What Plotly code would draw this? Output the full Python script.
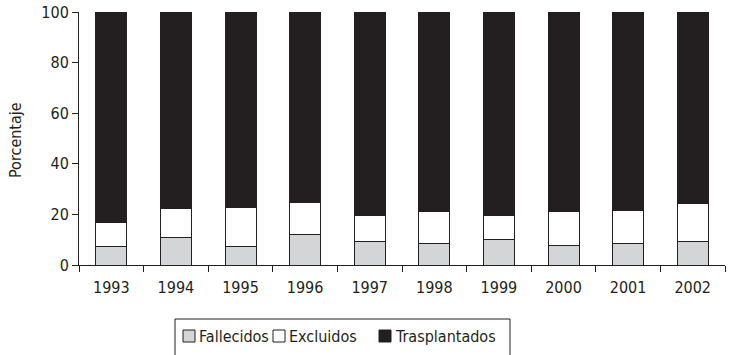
import plotly.graph_objects as go

years = ["1993", "1994", "1995", "1996", "1997", "1998", "1999", "2000", "2001", "2002"]
fallecidos = [7.2, 10.8, 7.2, 12.1, 9.4, 8.6, 9.9, 7.9, 8.6, 9.2]
excluidos_top = [16.7, 22.4, 22.8, 24.9, 19.5, 21.3, 19.5, 21.1, 21.7, 24.4]
excluidos = [round(t - f, 1) for t, f in zip(excluidos_top, fallecidos)]
trasplantados = [round(100 - t, 1) for t in excluidos_top]

series_names = ["Fallecidos", "Excluidos", "Trasplantados"]
series_colors = ["#d4d5d6", "#ffffff", "#231f20"]
INK = "#231f20"
FONT = "Liberation Sans Narrow, Arial Narrow, DejaVu Sans Condensed, Liberation Sans, Arial, sans-serif"

W, H = 730, 355
L, R, T, B = 79, 5, 12, 90
PW, PH = W - L - R, H - T - B

def px(x):
    return (x - L) / PW

def py(y):
    return (H - B - y) / PH

fig = go.Figure()
for name, vals, col in zip(series_names, [fallecidos, excluidos, trasplantados], series_colors):
    fig.add_trace(go.Bar(x=years, y=vals, name=name,
                         marker=dict(color=col, line=dict(color=INK, width=1)),
                         width=0.48, showlegend=False))

shapes = [dict(type="rect", xref="paper", yref="paper", x0=px(175), x1=px(510), y0=py(319), y1=py(362),
               line=dict(color=INK, width=1), fillcolor="white", layer="above")]
annotations = []
sq_x = [183, 273, 379]
for name, col, sx in zip(series_names, series_colors, sq_x):
    shapes.append(dict(type="rect", xref="paper", yref="paper", x0=px(sx), x1=px(sx + 12),
                       y0=py(342), y1=py(330), line=dict(color=INK, width=1), fillcolor=col, layer="above"))
    annotations.append(dict(text=name, xref="paper", yref="paper", x=px(sx + 14), y=py(336),
                            xanchor="left", yanchor="middle", showarrow=False,
                            font=dict(size=16, color=INK, family=FONT)))
annotations.append(dict(text="Porcentaje", xref="paper", yref="paper", x=px(15), y=py(140),
                        xanchor="center", yanchor="middle", textangle=-90, showarrow=False,
                        font=dict(size=16, color=INK, family=FONT)))

fig.update_layout(
    barmode="stack",
    width=W, height=H,
    margin=dict(l=L, r=R, t=T, b=B, autoexpand=False),
    paper_bgcolor="white", plot_bgcolor="white",
    font=dict(family=FONT, size=16, color=INK),
    showlegend=False,
    shapes=shapes,
    annotations=annotations,
)
fig.update_xaxes(type="category", showline=True, linecolor=INK, linewidth=1,
                 ticks="outside", tickson="boundaries", ticklen=6, tickcolor=INK,
                 showgrid=False, range=[-0.5, 9.5], automargin=False, ticklabelstandoff=8)
fig.update_yaxes(range=[0, 100], tickvals=[0, 20, 40, 60, 80, 100], showline=True,
                 linecolor=INK, linewidth=1, ticks="outside", ticklen=6, tickcolor=INK,
                 showgrid=False, zeroline=False, automargin=False, ticklabeloverflow="allow")

fig.write_html("out.html", config={"displayModeBar": False},
               post_script="document.body.style.margin='0px';document.body.style.overflow='hidden';")
